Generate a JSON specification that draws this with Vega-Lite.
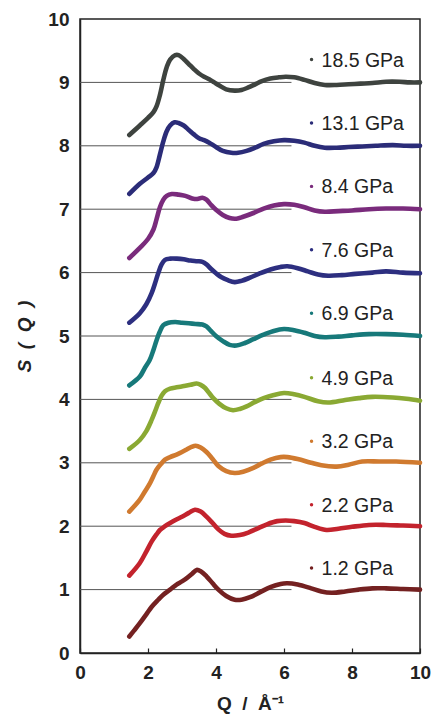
{
  "$schema": "https://vega.github.io/schema/vega-lite/v6.json",
  "width": 340,
  "height": 634,
  "autosize": {"type": "none"},
  "padding": {"left": 80, "top": 19, "right": 16, "bottom": 63},
  "background": "white",
  "config": {
    "view": {"stroke": "#222", "strokeWidth": 1.5},
    "font": "Liberation Sans"
  },
  "datasets": {
    "grid": [{"g": 1}, {"g": 2}, {"g": 3}, {"g": 4}, {"g": 5}, {"g": 6}, {"g": 7}, {"g": 8}, {"g": 9}],
    "labels": [
      {"p": "18.5 GPa", "lx": 6.81, "ly": 9.36},
      {"p": "13.1 GPa", "lx": 6.81, "ly": 8.36},
      {"p": "8.4 GPa", "lx": 6.81, "ly": 7.36},
      {"p": "7.6 GPa", "lx": 6.81, "ly": 6.36},
      {"p": "6.9 GPa", "lx": 6.81, "ly": 5.36},
      {"p": "4.9 GPa", "lx": 6.81, "ly": 4.34},
      {"p": "3.2 GPa", "lx": 6.81, "ly": 3.34},
      {"p": "2.2 GPa", "lx": 6.81, "ly": 2.34},
      {"p": "1.2 GPa", "lx": 6.81, "ly": 1.34}
    ],
    "curves": [
      {"p":"18.5 GPa","q":1.45,"s":8.17},{"p":"18.5 GPa","q":1.76,"s":8.32},{"p":"18.5 GPa","q":2.0,"s":8.44},{"p":"18.5 GPa","q":2.16,"s":8.53},{"p":"18.5 GPa","q":2.25,"s":8.62},{"p":"18.5 GPa","q":2.35,"s":8.8},{"p":"18.5 GPa","q":2.45,"s":9.04},{"p":"18.5 GPa","q":2.55,"s":9.24},{"p":"18.5 GPa","q":2.65,"s":9.36},{"p":"18.5 GPa","q":2.8,"s":9.43},{"p":"18.5 GPa","q":2.9,"s":9.43},{"p":"18.5 GPa","q":3.05,"s":9.37},{"p":"18.5 GPa","q":3.2,"s":9.29},{"p":"18.5 GPa","q":3.35,"s":9.21},{"p":"18.5 GPa","q":3.5,"s":9.14},{"p":"18.5 GPa","q":3.65,"s":9.09},{"p":"18.5 GPa","q":3.8,"s":9.05},{"p":"18.5 GPa","q":3.95,"s":9.0},{"p":"18.5 GPa","q":4.1,"s":8.95},{"p":"18.5 GPa","q":4.3,"s":8.89},{"p":"18.5 GPa","q":4.55,"s":8.87},{"p":"18.5 GPa","q":4.75,"s":8.88},{"p":"18.5 GPa","q":4.95,"s":8.92},{"p":"18.5 GPa","q":5.15,"s":8.97},{"p":"18.5 GPa","q":5.35,"s":9.02},{"p":"18.5 GPa","q":5.6,"s":9.06},{"p":"18.5 GPa","q":5.85,"s":9.08},{"p":"18.5 GPa","q":6.05,"s":9.09},{"p":"18.5 GPa","q":6.3,"s":9.08},{"p":"18.5 GPa","q":6.6,"s":9.04},{"p":"18.5 GPa","q":6.9,"s":8.99},{"p":"18.5 GPa","q":7.2,"s":8.96},{"p":"18.5 GPa","q":7.55,"s":8.96},{"p":"18.5 GPa","q":7.9,"s":8.97},{"p":"18.5 GPa","q":8.25,"s":8.98},{"p":"18.5 GPa","q":8.6,"s":8.99},{"p":"18.5 GPa","q":9.0,"s":9.01},{"p":"18.5 GPa","q":9.4,"s":9.01},{"p":"18.5 GPa","q":9.7,"s":9.0},{"p":"18.5 GPa","q":10,"s":9.0},

      {"p":"13.1 GPa","q":1.45,"s":7.24},{"p":"13.1 GPa","q":1.76,"s":7.4},{"p":"13.1 GPa","q":2.0,"s":7.5},{"p":"13.1 GPa","q":2.16,"s":7.57},{"p":"13.1 GPa","q":2.25,"s":7.66},{"p":"13.1 GPa","q":2.35,"s":7.86},{"p":"13.1 GPa","q":2.45,"s":8.07},{"p":"13.1 GPa","q":2.55,"s":8.23},{"p":"13.1 GPa","q":2.65,"s":8.32},{"p":"13.1 GPa","q":2.78,"s":8.37},{"p":"13.1 GPa","q":2.9,"s":8.36},{"p":"13.1 GPa","q":3.05,"s":8.32},{"p":"13.1 GPa","q":3.2,"s":8.25},{"p":"13.1 GPa","q":3.35,"s":8.18},{"p":"13.1 GPa","q":3.5,"s":8.12},{"p":"13.1 GPa","q":3.65,"s":8.09},{"p":"13.1 GPa","q":3.8,"s":8.05},{"p":"13.1 GPa","q":4.0,"s":7.98},{"p":"13.1 GPa","q":4.2,"s":7.92},{"p":"13.1 GPa","q":4.45,"s":7.89},{"p":"13.1 GPa","q":4.65,"s":7.89},{"p":"13.1 GPa","q":4.9,"s":7.92},{"p":"13.1 GPa","q":5.15,"s":7.97},{"p":"13.1 GPa","q":5.4,"s":8.03},{"p":"13.1 GPa","q":5.7,"s":8.07},{"p":"13.1 GPa","q":6.0,"s":8.09},{"p":"13.1 GPa","q":6.3,"s":8.08},{"p":"13.1 GPa","q":6.6,"s":8.05},{"p":"13.1 GPa","q":6.9,"s":8.0},{"p":"13.1 GPa","q":7.2,"s":7.97},{"p":"13.1 GPa","q":7.55,"s":7.97},{"p":"13.1 GPa","q":7.9,"s":7.98},{"p":"13.1 GPa","q":8.3,"s":7.99},{"p":"13.1 GPa","q":8.7,"s":8.0},{"p":"13.1 GPa","q":9.2,"s":8.01},{"p":"13.1 GPa","q":9.6,"s":8.0},{"p":"13.1 GPa","q":10,"s":8.0},

      {"p":"8.4 GPa","q":1.45,"s":6.23},{"p":"8.4 GPa","q":1.76,"s":6.39},{"p":"8.4 GPa","q":2.0,"s":6.53},{"p":"8.4 GPa","q":2.16,"s":6.68},{"p":"8.4 GPa","q":2.25,"s":6.84},{"p":"8.4 GPa","q":2.35,"s":7.03},{"p":"8.4 GPa","q":2.45,"s":7.15},{"p":"8.4 GPa","q":2.55,"s":7.21},{"p":"8.4 GPa","q":2.7,"s":7.24},{"p":"8.4 GPa","q":2.9,"s":7.23},{"p":"8.4 GPa","q":3.1,"s":7.21},{"p":"8.4 GPa","q":3.3,"s":7.17},{"p":"8.4 GPa","q":3.45,"s":7.16},{"p":"8.4 GPa","q":3.6,"s":7.18},{"p":"8.4 GPa","q":3.72,"s":7.15},{"p":"8.4 GPa","q":3.85,"s":7.07},{"p":"8.4 GPa","q":4.0,"s":6.99},{"p":"8.4 GPa","q":4.2,"s":6.91},{"p":"8.4 GPa","q":4.4,"s":6.86},{"p":"8.4 GPa","q":4.6,"s":6.85},{"p":"8.4 GPa","q":4.8,"s":6.88},{"p":"8.4 GPa","q":5.1,"s":6.94},{"p":"8.4 GPa","q":5.4,"s":7.01},{"p":"8.4 GPa","q":5.7,"s":7.06},{"p":"8.4 GPa","q":6.0,"s":7.08},{"p":"8.4 GPa","q":6.3,"s":7.07},{"p":"8.4 GPa","q":6.6,"s":7.03},{"p":"8.4 GPa","q":6.9,"s":6.98},{"p":"8.4 GPa","q":7.2,"s":6.96},{"p":"8.4 GPa","q":7.6,"s":6.97},{"p":"8.4 GPa","q":8.0,"s":6.98},{"p":"8.4 GPa","q":8.5,"s":7.0},{"p":"8.4 GPa","q":9.0,"s":7.01},{"p":"8.4 GPa","q":9.5,"s":7.01},{"p":"8.4 GPa","q":10,"s":7.0},

      {"p":"7.6 GPa","q":1.45,"s":5.21},{"p":"7.6 GPa","q":1.76,"s":5.36},{"p":"7.6 GPa","q":1.95,"s":5.5},{"p":"7.6 GPa","q":2.11,"s":5.68},{"p":"7.6 GPa","q":2.2,"s":5.82},{"p":"7.6 GPa","q":2.3,"s":5.99},{"p":"7.6 GPa","q":2.4,"s":6.13},{"p":"7.6 GPa","q":2.5,"s":6.2},{"p":"7.6 GPa","q":2.65,"s":6.22},{"p":"7.6 GPa","q":2.85,"s":6.22},{"p":"7.6 GPa","q":3.05,"s":6.21},{"p":"7.6 GPa","q":3.25,"s":6.19},{"p":"7.6 GPa","q":3.45,"s":6.18},{"p":"7.6 GPa","q":3.6,"s":6.17},{"p":"7.6 GPa","q":3.72,"s":6.13},{"p":"7.6 GPa","q":3.85,"s":6.06},{"p":"7.6 GPa","q":4.0,"s":5.99},{"p":"7.6 GPa","q":4.15,"s":5.93},{"p":"7.6 GPa","q":4.35,"s":5.88},{"p":"7.6 GPa","q":4.55,"s":5.85},{"p":"7.6 GPa","q":4.75,"s":5.87},{"p":"7.6 GPa","q":5.0,"s":5.92},{"p":"7.6 GPa","q":5.3,"s":5.99},{"p":"7.6 GPa","q":5.6,"s":6.05},{"p":"7.6 GPa","q":5.9,"s":6.09},{"p":"7.6 GPa","q":6.1,"s":6.1},{"p":"7.6 GPa","q":6.4,"s":6.07},{"p":"7.6 GPa","q":6.7,"s":6.02},{"p":"7.6 GPa","q":7.0,"s":5.97},{"p":"7.6 GPa","q":7.3,"s":5.95},{"p":"7.6 GPa","q":7.7,"s":5.96},{"p":"7.6 GPa","q":8.1,"s":5.98},{"p":"7.6 GPa","q":8.6,"s":6.0},{"p":"7.6 GPa","q":9.0,"s":6.02},{"p":"7.6 GPa","q":9.5,"s":6.0},{"p":"7.6 GPa","q":10,"s":5.99},

      {"p":"6.9 GPa","q":1.45,"s":4.22},{"p":"6.9 GPa","q":1.76,"s":4.36},{"p":"6.9 GPa","q":1.91,"s":4.5},{"p":"6.9 GPa","q":2.05,"s":4.62},{"p":"6.9 GPa","q":2.16,"s":4.78},{"p":"6.9 GPa","q":2.25,"s":4.93},{"p":"6.9 GPa","q":2.35,"s":5.07},{"p":"6.9 GPa","q":2.45,"s":5.17},{"p":"6.9 GPa","q":2.6,"s":5.21},{"p":"6.9 GPa","q":2.8,"s":5.22},{"p":"6.9 GPa","q":3.0,"s":5.21},{"p":"6.9 GPa","q":3.2,"s":5.2},{"p":"6.9 GPa","q":3.4,"s":5.19},{"p":"6.9 GPa","q":3.6,"s":5.18},{"p":"6.9 GPa","q":3.72,"s":5.15},{"p":"6.9 GPa","q":3.85,"s":5.08},{"p":"6.9 GPa","q":4.0,"s":5.0},{"p":"6.9 GPa","q":4.2,"s":4.92},{"p":"6.9 GPa","q":4.4,"s":4.86},{"p":"6.9 GPa","q":4.6,"s":4.85},{"p":"6.9 GPa","q":4.85,"s":4.89},{"p":"6.9 GPa","q":5.1,"s":4.95},{"p":"6.9 GPa","q":5.4,"s":5.02},{"p":"6.9 GPa","q":5.7,"s":5.08},{"p":"6.9 GPa","q":6.0,"s":5.11},{"p":"6.9 GPa","q":6.3,"s":5.09},{"p":"6.9 GPa","q":6.6,"s":5.05},{"p":"6.9 GPa","q":6.9,"s":5.0},{"p":"6.9 GPa","q":7.2,"s":4.98},{"p":"6.9 GPa","q":7.6,"s":4.99},{"p":"6.9 GPa","q":8.0,"s":5.01},{"p":"6.9 GPa","q":8.5,"s":5.03},{"p":"6.9 GPa","q":9.0,"s":5.03},{"p":"6.9 GPa","q":9.5,"s":5.02},{"p":"6.9 GPa","q":10,"s":5.0},

      {"p":"4.9 GPa","q":1.45,"s":3.22},{"p":"4.9 GPa","q":1.76,"s":3.36},{"p":"4.9 GPa","q":1.95,"s":3.5},{"p":"4.9 GPa","q":2.11,"s":3.68},{"p":"4.9 GPa","q":2.2,"s":3.8},{"p":"4.9 GPa","q":2.3,"s":3.94},{"p":"4.9 GPa","q":2.4,"s":4.06},{"p":"4.9 GPa","q":2.5,"s":4.13},{"p":"4.9 GPa","q":2.65,"s":4.17},{"p":"4.9 GPa","q":2.84,"s":4.19},{"p":"4.9 GPa","q":3.05,"s":4.21},{"p":"4.9 GPa","q":3.25,"s":4.23},{"p":"4.9 GPa","q":3.43,"s":4.25},{"p":"4.9 GPa","q":3.55,"s":4.23},{"p":"4.9 GPa","q":3.68,"s":4.18},{"p":"4.9 GPa","q":3.8,"s":4.1},{"p":"4.9 GPa","q":3.92,"s":4.02},{"p":"4.9 GPa","q":4.1,"s":3.93},{"p":"4.9 GPa","q":4.3,"s":3.86},{"p":"4.9 GPa","q":4.5,"s":3.83},{"p":"4.9 GPa","q":4.7,"s":3.85},{"p":"4.9 GPa","q":4.9,"s":3.89},{"p":"4.9 GPa","q":5.15,"s":3.96},{"p":"4.9 GPa","q":5.4,"s":4.02},{"p":"4.9 GPa","q":5.7,"s":4.07},{"p":"4.9 GPa","q":6.0,"s":4.1},{"p":"4.9 GPa","q":6.3,"s":4.08},{"p":"4.9 GPa","q":6.6,"s":4.04},{"p":"4.9 GPa","q":7.0,"s":3.97},{"p":"4.9 GPa","q":7.3,"s":3.95},{"p":"4.9 GPa","q":7.8,"s":3.99},{"p":"4.9 GPa","q":8.2,"s":4.02},{"p":"4.9 GPa","q":8.6,"s":4.04},{"p":"4.9 GPa","q":9.2,"s":4.03},{"p":"4.9 GPa","q":9.6,"s":4.01},{"p":"4.9 GPa","q":10,"s":3.98},

      {"p":"3.2 GPa","q":1.45,"s":2.23},{"p":"3.2 GPa","q":1.76,"s":2.42},{"p":"3.2 GPa","q":1.9,"s":2.54},{"p":"3.2 GPa","q":2.06,"s":2.68},{"p":"3.2 GPa","q":2.16,"s":2.79},{"p":"3.2 GPa","q":2.25,"s":2.89},{"p":"3.2 GPa","q":2.38,"s":2.98},{"p":"3.2 GPa","q":2.5,"s":3.05},{"p":"3.2 GPa","q":2.65,"s":3.09},{"p":"3.2 GPa","q":2.84,"s":3.13},{"p":"3.2 GPa","q":3.0,"s":3.17},{"p":"3.2 GPa","q":3.14,"s":3.21},{"p":"3.2 GPa","q":3.28,"s":3.25},{"p":"3.2 GPa","q":3.4,"s":3.27},{"p":"3.2 GPa","q":3.55,"s":3.24},{"p":"3.2 GPa","q":3.72,"s":3.17},{"p":"3.2 GPa","q":3.9,"s":3.06},{"p":"3.2 GPa","q":4.07,"s":2.95},{"p":"3.2 GPa","q":4.3,"s":2.87},{"p":"3.2 GPa","q":4.55,"s":2.84},{"p":"3.2 GPa","q":4.8,"s":2.86},{"p":"3.2 GPa","q":5.1,"s":2.92},{"p":"3.2 GPa","q":5.35,"s":2.99},{"p":"3.2 GPa","q":5.6,"s":3.05},{"p":"3.2 GPa","q":5.9,"s":3.09},{"p":"3.2 GPa","q":6.1,"s":3.09},{"p":"3.2 GPa","q":6.4,"s":3.06},{"p":"3.2 GPa","q":6.8,"s":3.0},{"p":"3.2 GPa","q":7.1,"s":2.96},{"p":"3.2 GPa","q":7.55,"s":2.94},{"p":"3.2 GPa","q":7.9,"s":2.97},{"p":"3.2 GPa","q":8.3,"s":3.02},{"p":"3.2 GPa","q":8.8,"s":3.02},{"p":"3.2 GPa","q":9.3,"s":3.02},{"p":"3.2 GPa","q":10,"s":3.0},

      {"p":"2.2 GPa","q":1.45,"s":1.22},{"p":"2.2 GPa","q":1.76,"s":1.42},{"p":"2.2 GPa","q":1.95,"s":1.6},{"p":"2.2 GPa","q":2.11,"s":1.76},{"p":"2.2 GPa","q":2.25,"s":1.87},{"p":"2.2 GPa","q":2.35,"s":1.94},{"p":"2.2 GPa","q":2.5,"s":2.0},{"p":"2.2 GPa","q":2.65,"s":2.05},{"p":"2.2 GPa","q":2.85,"s":2.11},{"p":"2.2 GPa","q":3.0,"s":2.15},{"p":"2.2 GPa","q":3.2,"s":2.21},{"p":"2.2 GPa","q":3.38,"s":2.26},{"p":"2.2 GPa","q":3.55,"s":2.23},{"p":"2.2 GPa","q":3.72,"s":2.15},{"p":"2.2 GPa","q":3.9,"s":2.05},{"p":"2.2 GPa","q":4.07,"s":1.95},{"p":"2.2 GPa","q":4.25,"s":1.88},{"p":"2.2 GPa","q":4.45,"s":1.85},{"p":"2.2 GPa","q":4.7,"s":1.86},{"p":"2.2 GPa","q":4.95,"s":1.9},{"p":"2.2 GPa","q":5.25,"s":1.97},{"p":"2.2 GPa","q":5.5,"s":2.03},{"p":"2.2 GPa","q":5.8,"s":2.08},{"p":"2.2 GPa","q":6.05,"s":2.09},{"p":"2.2 GPa","q":6.3,"s":2.08},{"p":"2.2 GPa","q":6.6,"s":2.05},{"p":"2.2 GPa","q":6.9,"s":1.99},{"p":"2.2 GPa","q":7.25,"s":1.94},{"p":"2.2 GPa","q":7.6,"s":1.96},{"p":"2.2 GPa","q":8.0,"s":1.99},{"p":"2.2 GPa","q":8.5,"s":2.02},{"p":"2.2 GPa","q":9.0,"s":2.02},{"p":"2.2 GPa","q":9.5,"s":2.01},{"p":"2.2 GPa","q":10,"s":2.0},

      {"p":"1.2 GPa","q":1.45,"s":0.26},{"p":"1.2 GPa","q":1.6,"s":0.36},{"p":"1.2 GPa","q":1.76,"s":0.47},{"p":"1.2 GPa","q":1.95,"s":0.61},{"p":"1.2 GPa","q":2.11,"s":0.73},{"p":"1.2 GPa","q":2.3,"s":0.84},{"p":"1.2 GPa","q":2.45,"s":0.92},{"p":"1.2 GPa","q":2.65,"s":1.0},{"p":"1.2 GPa","q":2.84,"s":1.08},{"p":"1.2 GPa","q":3.0,"s":1.13},{"p":"1.2 GPa","q":3.14,"s":1.18},{"p":"1.2 GPa","q":3.3,"s":1.25},{"p":"1.2 GPa","q":3.43,"s":1.31},{"p":"1.2 GPa","q":3.55,"s":1.29},{"p":"1.2 GPa","q":3.72,"s":1.21},{"p":"1.2 GPa","q":3.9,"s":1.1},{"p":"1.2 GPa","q":4.07,"s":1.0},{"p":"1.2 GPa","q":4.3,"s":0.9},{"p":"1.2 GPa","q":4.55,"s":0.84},{"p":"1.2 GPa","q":4.75,"s":0.84},{"p":"1.2 GPa","q":5.0,"s":0.88},{"p":"1.2 GPa","q":5.3,"s":0.96},{"p":"1.2 GPa","q":5.6,"s":1.04},{"p":"1.2 GPa","q":5.9,"s":1.09},{"p":"1.2 GPa","q":6.1,"s":1.1},{"p":"1.2 GPa","q":6.4,"s":1.08},{"p":"1.2 GPa","q":6.8,"s":1.02},{"p":"1.2 GPa","q":7.1,"s":0.97},{"p":"1.2 GPa","q":7.4,"s":0.95},{"p":"1.2 GPa","q":7.8,"s":0.97},{"p":"1.2 GPa","q":8.2,"s":1.0},{"p":"1.2 GPa","q":8.6,"s":1.02},{"p":"1.2 GPa","q":9.0,"s":1.02},{"p":"1.2 GPa","q":9.5,"s":1.01},{"p":"1.2 GPa","q":10,"s":1.0}
    ]
  },
  "layer": [
    {
      "data": {"name": "grid"},
      "mark": {"type": "rule", "color": "#555", "strokeWidth": 1},
      "encoding": {
        "y": {"field": "g", "type": "quantitative"},
        "x": {"datum": 0, "type": "quantitative"},
        "x2": {"datum": 6.22}
      }
    },
    {
      "data": {"name": "curves"},
      "mark": {"type": "line", "strokeWidth": 4.6, "strokeCap": "round", "strokeJoin": "round", "interpolate": "catmull-rom"},
      "encoding": {
        "x": {
          "field": "q", "type": "quantitative",
          "scale": {"domain": [0, 10], "nice": false, "zero": false},
          "axis": {
            "title": "Q\u00a0\u00a0/\u00a0\u00a0Å⁻¹",
            "values": [0, 2, 4, 6, 8, 10],
            "format": "d",
            "grid": false,
            "tickSize": -5,
            "tickColor": "#222",
            "tickWidth": 1.2,
            "domainColor": "#222",
            "domainWidth": 1.5,
            "labelPadding": 15,
            "labelFlush": false,
            "labelFont": "Liberation Sans",
            "labelFontWeight": "bold",
            "labelFontSize": 19,
            "labelColor": "#222",
            "titleFont": "Liberation Sans",
            "titleFontWeight": "bold",
            "titleFontSize": 19,
            "titleColor": "#222",
            "titlePadding": 12
          }
        },
        "y": {
          "field": "s", "type": "quantitative",
          "scale": {"domain": [0, 10], "nice": false, "zero": false},
          "axis": {
            "title": "S\u00a0\u00a0(\u00a0\u00a0Q\u00a0\u00a0)",
            "values": [0, 1, 2, 3, 4, 5, 6, 7, 8, 9, 10],
            "format": "d",
            "grid": false,
            "ticks": false,
            "domainColor": "#222",
            "domainWidth": 1.5,
            "labelPadding": 11,
            "labelFont": "Liberation Sans",
            "labelFontWeight": "bold",
            "labelFontSize": 19,
            "labelColor": "#222",
            "titleFont": "Liberation Sans",
            "titleFontWeight": "bold",
            "titleFontStyle": "italic",
            "titleFontSize": 19,
            "titleColor": "#222",
            "titlePadding": 13
          }
        },
        "color": {
          "field": "p", "type": "nominal", "legend": null,
          "scale": {
            "domain": ["18.5 GPa", "13.1 GPa", "8.4 GPa", "7.6 GPa", "6.9 GPa", "4.9 GPa", "3.2 GPa", "2.2 GPa", "1.2 GPa"],
            "range": ["#3e433f", "#2b2c78", "#7a2b7c", "#2d2f80", "#17797a", "#8aa933", "#d07a2f", "#c3232d", "#742121"]
          }
        },
        "detail": {"field": "p"}
      }
    },
    {
      "data": {"name": "labels"},
      "mark": {"type": "point", "filled": true, "size": 12, "opacity": 1},
      "encoding": {
        "x": {"field": "lx", "type": "quantitative"},
        "y": {"field": "ly", "type": "quantitative"},
        "color": {"field": "p", "type": "nominal", "legend": null}
      }
    },
    {
      "data": {"name": "labels"},
      "mark": {"type": "text", "align": "left", "baseline": "middle", "dx": 10, "dy": 1, "font": "Liberation Sans", "fontSize": 19.5, "color": "#222"},
      "encoding": {
        "x": {"field": "lx", "type": "quantitative"},
        "y": {"field": "ly", "type": "quantitative"},
        "text": {"field": "p"}
      }
    }
  ]
}
